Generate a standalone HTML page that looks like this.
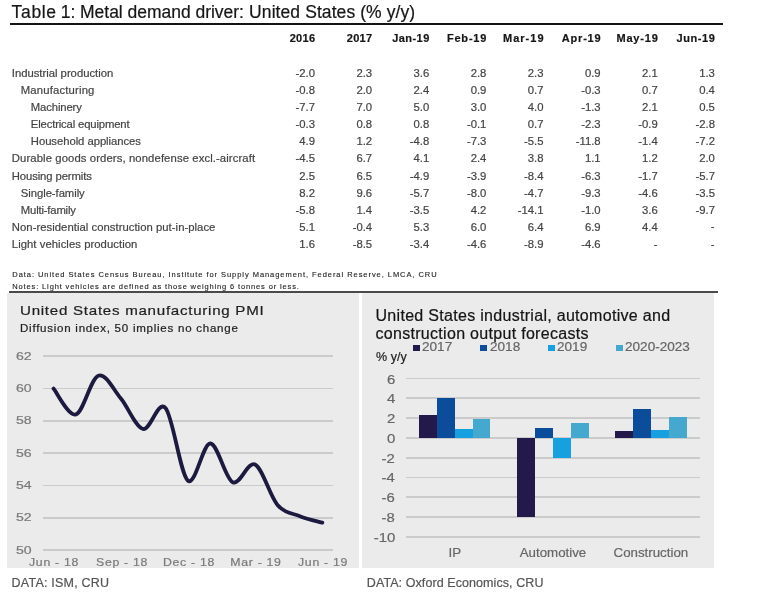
<!DOCTYPE html>
<html><head><meta charset="utf-8"><style>
html,body{margin:0;padding:0;background:#fff;width:781px;height:615px;overflow:hidden;}
body{position:relative;font-family:"Liberation Sans",sans-serif;filter:blur(0.3px);}
.t{position:absolute;white-space:nowrap;-webkit-text-stroke:0.2px currentColor;}
.r{position:absolute;}
</style></head><body>
<div class="t" style="top:4.19px;font-size:17.5px;line-height:17.5px;color:#161616;letter-spacing:0.65px;left:11.60px;">Table</div>
<div class="t" style="top:4.19px;font-size:17.5px;line-height:17.5px;color:#161616;letter-spacing:-0.03px;left:60.70px;">1: Metal demand driver:</div>
<div class="t" style="top:4.19px;font-size:17.5px;line-height:17.5px;color:#161616;letter-spacing:0.085px;left:249.10px;">United States (% y/y)</div>
<div class="r" style="left:9.50px;top:23.00px;width:713.80px;height:2.00px;background:#141414;"></div>
<div class="t" style="top:33.39px;font-size:11px;line-height:11px;color:#161616;font-weight:bold;letter-spacing:0.3px;right:465.70px;">2016</div>
<div class="t" style="top:33.39px;font-size:11px;line-height:11px;color:#161616;font-weight:bold;letter-spacing:0.3px;right:408.57px;">2017</div>
<div class="t" style="top:33.39px;font-size:11px;line-height:11px;color:#161616;font-weight:bold;letter-spacing:0.45px;right:351.29px;">Jan-19</div>
<div class="t" style="top:33.39px;font-size:11px;line-height:11px;color:#161616;font-weight:bold;letter-spacing:0.8px;right:293.81px;">Feb-19</div>
<div class="t" style="top:33.39px;font-size:11px;line-height:11px;color:#161616;font-weight:bold;letter-spacing:1.0px;right:236.48px;">Mar-19</div>
<div class="t" style="top:33.39px;font-size:11px;line-height:11px;color:#161616;font-weight:bold;letter-spacing:0.8px;right:179.55px;">Apr-19</div>
<div class="t" style="top:33.39px;font-size:11px;line-height:11px;color:#161616;font-weight:bold;letter-spacing:0.8px;right:122.42px;">May-19</div>
<div class="t" style="top:33.39px;font-size:11px;line-height:11px;color:#161616;font-weight:bold;letter-spacing:0.6px;right:65.49px;">Jun-19</div>
<div class="t" style="top:67.73px;font-size:11.3px;line-height:11.3px;color:#444444;letter-spacing:-0.015px;left:11.80px;">Industrial production</div>
<div class="t" style="top:67.73px;font-size:11.3px;line-height:11.3px;color:#444444;right:466.00px;">-2.0</div>
<div class="t" style="top:67.73px;font-size:11.3px;line-height:11.3px;color:#444444;right:408.87px;">2.3</div>
<div class="t" style="top:67.73px;font-size:11.3px;line-height:11.3px;color:#444444;right:351.74px;">3.6</div>
<div class="t" style="top:67.73px;font-size:11.3px;line-height:11.3px;color:#444444;right:294.61px;">2.8</div>
<div class="t" style="top:67.73px;font-size:11.3px;line-height:11.3px;color:#444444;right:237.48px;">2.3</div>
<div class="t" style="top:67.73px;font-size:11.3px;line-height:11.3px;color:#444444;right:180.35px;">0.9</div>
<div class="t" style="top:67.73px;font-size:11.3px;line-height:11.3px;color:#444444;right:123.22px;">2.1</div>
<div class="t" style="top:67.73px;font-size:11.3px;line-height:11.3px;color:#444444;right:66.09px;">1.3</div>
<div class="t" style="top:84.86px;font-size:11.3px;line-height:11.3px;color:#444444;letter-spacing:0.167px;left:20.80px;">Manufacturing</div>
<div class="t" style="top:84.86px;font-size:11.3px;line-height:11.3px;color:#444444;right:466.00px;">-0.8</div>
<div class="t" style="top:84.86px;font-size:11.3px;line-height:11.3px;color:#444444;right:408.87px;">2.0</div>
<div class="t" style="top:84.86px;font-size:11.3px;line-height:11.3px;color:#444444;right:351.74px;">2.4</div>
<div class="t" style="top:84.86px;font-size:11.3px;line-height:11.3px;color:#444444;right:294.61px;">0.9</div>
<div class="t" style="top:84.86px;font-size:11.3px;line-height:11.3px;color:#444444;right:237.48px;">0.7</div>
<div class="t" style="top:84.86px;font-size:11.3px;line-height:11.3px;color:#444444;right:180.35px;">-0.3</div>
<div class="t" style="top:84.86px;font-size:11.3px;line-height:11.3px;color:#444444;right:123.22px;">0.7</div>
<div class="t" style="top:84.86px;font-size:11.3px;line-height:11.3px;color:#444444;right:66.09px;">0.4</div>
<div class="t" style="top:101.99px;font-size:11.3px;line-height:11.3px;color:#444444;letter-spacing:-0.125px;left:30.80px;">Machinery</div>
<div class="t" style="top:101.99px;font-size:11.3px;line-height:11.3px;color:#444444;right:466.00px;">-7.7</div>
<div class="t" style="top:101.99px;font-size:11.3px;line-height:11.3px;color:#444444;right:408.87px;">7.0</div>
<div class="t" style="top:101.99px;font-size:11.3px;line-height:11.3px;color:#444444;right:351.74px;">5.0</div>
<div class="t" style="top:101.99px;font-size:11.3px;line-height:11.3px;color:#444444;right:294.61px;">3.0</div>
<div class="t" style="top:101.99px;font-size:11.3px;line-height:11.3px;color:#444444;right:237.48px;">4.0</div>
<div class="t" style="top:101.99px;font-size:11.3px;line-height:11.3px;color:#444444;right:180.35px;">-1.3</div>
<div class="t" style="top:101.99px;font-size:11.3px;line-height:11.3px;color:#444444;right:123.22px;">2.1</div>
<div class="t" style="top:101.99px;font-size:11.3px;line-height:11.3px;color:#444444;right:66.09px;">0.5</div>
<div class="t" style="top:119.12px;font-size:11.3px;line-height:11.3px;color:#444444;letter-spacing:-0.153px;left:30.80px;">Electrical equipment</div>
<div class="t" style="top:119.12px;font-size:11.3px;line-height:11.3px;color:#444444;right:466.00px;">-0.3</div>
<div class="t" style="top:119.12px;font-size:11.3px;line-height:11.3px;color:#444444;right:408.87px;">0.8</div>
<div class="t" style="top:119.12px;font-size:11.3px;line-height:11.3px;color:#444444;right:351.74px;">0.8</div>
<div class="t" style="top:119.12px;font-size:11.3px;line-height:11.3px;color:#444444;right:294.61px;">-0.1</div>
<div class="t" style="top:119.12px;font-size:11.3px;line-height:11.3px;color:#444444;right:237.48px;">0.7</div>
<div class="t" style="top:119.12px;font-size:11.3px;line-height:11.3px;color:#444444;right:180.35px;">-2.3</div>
<div class="t" style="top:119.12px;font-size:11.3px;line-height:11.3px;color:#444444;right:123.22px;">-0.9</div>
<div class="t" style="top:119.12px;font-size:11.3px;line-height:11.3px;color:#444444;right:66.09px;">-2.8</div>
<div class="t" style="top:136.25px;font-size:11.3px;line-height:11.3px;color:#444444;letter-spacing:-0.053px;left:30.80px;">Household appliances</div>
<div class="t" style="top:136.25px;font-size:11.3px;line-height:11.3px;color:#444444;right:466.00px;">4.9</div>
<div class="t" style="top:136.25px;font-size:11.3px;line-height:11.3px;color:#444444;right:408.87px;">1.2</div>
<div class="t" style="top:136.25px;font-size:11.3px;line-height:11.3px;color:#444444;right:351.74px;">-4.8</div>
<div class="t" style="top:136.25px;font-size:11.3px;line-height:11.3px;color:#444444;right:294.61px;">-7.3</div>
<div class="t" style="top:136.25px;font-size:11.3px;line-height:11.3px;color:#444444;right:237.48px;">-5.5</div>
<div class="t" style="top:136.25px;font-size:11.3px;line-height:11.3px;color:#444444;right:180.35px;">-11.8</div>
<div class="t" style="top:136.25px;font-size:11.3px;line-height:11.3px;color:#444444;right:123.22px;">-1.4</div>
<div class="t" style="top:136.25px;font-size:11.3px;line-height:11.3px;color:#444444;right:66.09px;">-7.2</div>
<div class="t" style="top:153.38px;font-size:11.3px;line-height:11.3px;color:#444444;letter-spacing:0.102px;left:11.80px;">Durable goods orders, nondefense excl.-aircraft</div>
<div class="t" style="top:153.38px;font-size:11.3px;line-height:11.3px;color:#444444;right:466.00px;">-4.5</div>
<div class="t" style="top:153.38px;font-size:11.3px;line-height:11.3px;color:#444444;right:408.87px;">6.7</div>
<div class="t" style="top:153.38px;font-size:11.3px;line-height:11.3px;color:#444444;right:351.74px;">4.1</div>
<div class="t" style="top:153.38px;font-size:11.3px;line-height:11.3px;color:#444444;right:294.61px;">2.4</div>
<div class="t" style="top:153.38px;font-size:11.3px;line-height:11.3px;color:#444444;right:237.48px;">3.8</div>
<div class="t" style="top:153.38px;font-size:11.3px;line-height:11.3px;color:#444444;right:180.35px;">1.1</div>
<div class="t" style="top:153.38px;font-size:11.3px;line-height:11.3px;color:#444444;right:123.22px;">1.2</div>
<div class="t" style="top:153.38px;font-size:11.3px;line-height:11.3px;color:#444444;right:66.09px;">2.0</div>
<div class="t" style="top:170.51px;font-size:11.3px;line-height:11.3px;color:#444444;letter-spacing:-0.114px;left:11.80px;">Housing permits</div>
<div class="t" style="top:170.51px;font-size:11.3px;line-height:11.3px;color:#444444;right:466.00px;">2.5</div>
<div class="t" style="top:170.51px;font-size:11.3px;line-height:11.3px;color:#444444;right:408.87px;">6.5</div>
<div class="t" style="top:170.51px;font-size:11.3px;line-height:11.3px;color:#444444;right:351.74px;">-4.9</div>
<div class="t" style="top:170.51px;font-size:11.3px;line-height:11.3px;color:#444444;right:294.61px;">-3.9</div>
<div class="t" style="top:170.51px;font-size:11.3px;line-height:11.3px;color:#444444;right:237.48px;">-8.4</div>
<div class="t" style="top:170.51px;font-size:11.3px;line-height:11.3px;color:#444444;right:180.35px;">-6.3</div>
<div class="t" style="top:170.51px;font-size:11.3px;line-height:11.3px;color:#444444;right:123.22px;">-1.7</div>
<div class="t" style="top:170.51px;font-size:11.3px;line-height:11.3px;color:#444444;right:66.09px;">-5.7</div>
<div class="t" style="top:187.64px;font-size:11.3px;line-height:11.3px;color:#444444;letter-spacing:-0.058px;left:20.80px;">Single-family</div>
<div class="t" style="top:187.64px;font-size:11.3px;line-height:11.3px;color:#444444;right:466.00px;">8.2</div>
<div class="t" style="top:187.64px;font-size:11.3px;line-height:11.3px;color:#444444;right:408.87px;">9.6</div>
<div class="t" style="top:187.64px;font-size:11.3px;line-height:11.3px;color:#444444;right:351.74px;">-5.7</div>
<div class="t" style="top:187.64px;font-size:11.3px;line-height:11.3px;color:#444444;right:294.61px;">-8.0</div>
<div class="t" style="top:187.64px;font-size:11.3px;line-height:11.3px;color:#444444;right:237.48px;">-4.7</div>
<div class="t" style="top:187.64px;font-size:11.3px;line-height:11.3px;color:#444444;right:180.35px;">-9.3</div>
<div class="t" style="top:187.64px;font-size:11.3px;line-height:11.3px;color:#444444;right:123.22px;">-4.6</div>
<div class="t" style="top:187.64px;font-size:11.3px;line-height:11.3px;color:#444444;right:66.09px;">-3.5</div>
<div class="t" style="top:204.77px;font-size:11.3px;line-height:11.3px;color:#444444;letter-spacing:-0.182px;left:20.80px;">Multi-family</div>
<div class="t" style="top:204.77px;font-size:11.3px;line-height:11.3px;color:#444444;right:466.00px;">-5.8</div>
<div class="t" style="top:204.77px;font-size:11.3px;line-height:11.3px;color:#444444;right:408.87px;">1.4</div>
<div class="t" style="top:204.77px;font-size:11.3px;line-height:11.3px;color:#444444;right:351.74px;">-3.5</div>
<div class="t" style="top:204.77px;font-size:11.3px;line-height:11.3px;color:#444444;right:294.61px;">4.2</div>
<div class="t" style="top:204.77px;font-size:11.3px;line-height:11.3px;color:#444444;right:237.48px;">-14.1</div>
<div class="t" style="top:204.77px;font-size:11.3px;line-height:11.3px;color:#444444;right:180.35px;">-1.0</div>
<div class="t" style="top:204.77px;font-size:11.3px;line-height:11.3px;color:#444444;right:123.22px;">3.6</div>
<div class="t" style="top:204.77px;font-size:11.3px;line-height:11.3px;color:#444444;right:66.09px;">-9.7</div>
<div class="t" style="top:221.90px;font-size:11.3px;line-height:11.3px;color:#444444;letter-spacing:0.035px;left:11.80px;">Non-residential construction put-in-place</div>
<div class="t" style="top:221.90px;font-size:11.3px;line-height:11.3px;color:#444444;right:466.00px;">5.1</div>
<div class="t" style="top:221.90px;font-size:11.3px;line-height:11.3px;color:#444444;right:408.87px;">-0.4</div>
<div class="t" style="top:221.90px;font-size:11.3px;line-height:11.3px;color:#444444;right:351.74px;">5.3</div>
<div class="t" style="top:221.90px;font-size:11.3px;line-height:11.3px;color:#444444;right:294.61px;">6.0</div>
<div class="t" style="top:221.90px;font-size:11.3px;line-height:11.3px;color:#444444;right:237.48px;">6.4</div>
<div class="t" style="top:221.90px;font-size:11.3px;line-height:11.3px;color:#444444;right:180.35px;">6.9</div>
<div class="t" style="top:221.90px;font-size:11.3px;line-height:11.3px;color:#444444;right:123.22px;">4.4</div>
<div class="t" style="top:221.40px;font-size:11.3px;line-height:11.3px;color:#444444;right:66.39px;">-</div>
<div class="t" style="top:239.03px;font-size:11.3px;line-height:11.3px;color:#444444;letter-spacing:0.05px;left:11.80px;">Light vehicles production</div>
<div class="t" style="top:239.03px;font-size:11.3px;line-height:11.3px;color:#444444;right:466.00px;">1.6</div>
<div class="t" style="top:239.03px;font-size:11.3px;line-height:11.3px;color:#444444;right:408.87px;">-8.5</div>
<div class="t" style="top:239.03px;font-size:11.3px;line-height:11.3px;color:#444444;right:351.74px;">-3.4</div>
<div class="t" style="top:239.03px;font-size:11.3px;line-height:11.3px;color:#444444;right:294.61px;">-4.6</div>
<div class="t" style="top:239.03px;font-size:11.3px;line-height:11.3px;color:#444444;right:237.48px;">-8.9</div>
<div class="t" style="top:239.03px;font-size:11.3px;line-height:11.3px;color:#444444;right:180.35px;">-4.6</div>
<div class="t" style="top:238.53px;font-size:11.3px;line-height:11.3px;color:#444444;right:123.52px;">-</div>
<div class="t" style="top:238.53px;font-size:11.3px;line-height:11.3px;color:#444444;right:66.39px;">-</div>
<div class="t" style="top:270.55px;font-size:7.5px;line-height:7.5px;color:#1e1e1e;letter-spacing:0.95px;left:12.30px;-webkit-text-stroke:0.12px #1e1e1e;">Data: United States Census Bureau, Institute for Supply Management, Federal Reserve, LMCA, CRU</div>
<div class="t" style="top:282.85px;font-size:7.5px;line-height:7.5px;color:#1e1e1e;letter-spacing:0.86px;left:12.30px;-webkit-text-stroke:0.12px #1e1e1e;">Notes: Light vehicles are defined as those weighing 6 tonnes or less.</div>
<div class="r" style="left:9.00px;top:291.20px;width:709.00px;height:1.90px;background:#4a4a4a;"></div>
<div class="r" style="left:6.50px;top:293.10px;width:352.30px;height:274.90px;background:#ebebeb;"></div>
<div class="r" style="left:362.00px;top:293.10px;width:351.80px;height:274.90px;background:#ebebeb;"></div>
<div class="t" style="top:304.07px;font-size:13.5px;line-height:13.5px;color:#1e1e1e;transform:scaleX(1.12);transform-origin:0 0;letter-spacing:0.65px;left:20.30px;">United States manufacturing PMI</div>
<div class="t" style="top:324.38px;font-size:10.3px;line-height:10.3px;color:#1e1e1e;transform:scaleX(1.12);transform-origin:0 0;letter-spacing:0.67px;left:20.30px;">Diffusion index, 50 implies no change</div>
<div class="r" style="left:42.50px;top:355.40px;width:290.80px;height:1.80px;background:#cbcbcb;"></div>
<div class="t" style="top:350.72px;font-size:11.2px;line-height:11.2px;color:#7a7a7a;transform:scaleX(1.26);transform-origin:0 0;left:15.60px;">62</div>
<div class="r" style="left:42.50px;top:387.70px;width:290.80px;height:1.80px;background:#cbcbcb;"></div>
<div class="t" style="top:383.02px;font-size:11.2px;line-height:11.2px;color:#7a7a7a;transform:scaleX(1.26);transform-origin:0 0;left:15.60px;">60</div>
<div class="r" style="left:42.50px;top:420.00px;width:290.80px;height:1.80px;background:#cbcbcb;"></div>
<div class="t" style="top:415.32px;font-size:11.2px;line-height:11.2px;color:#7a7a7a;transform:scaleX(1.26);transform-origin:0 0;left:15.60px;">58</div>
<div class="r" style="left:42.50px;top:452.30px;width:290.80px;height:1.80px;background:#cbcbcb;"></div>
<div class="t" style="top:447.62px;font-size:11.2px;line-height:11.2px;color:#7a7a7a;transform:scaleX(1.26);transform-origin:0 0;left:15.60px;">56</div>
<div class="r" style="left:42.50px;top:484.60px;width:290.80px;height:1.80px;background:#cbcbcb;"></div>
<div class="t" style="top:479.92px;font-size:11.2px;line-height:11.2px;color:#7a7a7a;transform:scaleX(1.26);transform-origin:0 0;left:15.60px;">54</div>
<div class="r" style="left:42.50px;top:516.90px;width:290.80px;height:1.80px;background:#cbcbcb;"></div>
<div class="t" style="top:512.22px;font-size:11.2px;line-height:11.2px;color:#7a7a7a;transform:scaleX(1.26);transform-origin:0 0;left:15.60px;">52</div>
<div class="r" style="left:42.50px;top:549.20px;width:290.80px;height:1.80px;background:#cbcbcb;"></div>
<div class="t" style="top:544.52px;font-size:11.2px;line-height:11.2px;color:#7a7a7a;transform:scaleX(1.26);transform-origin:0 0;left:15.60px;">50</div>
<div class="t" style="top:556.54px;font-size:10.7px;line-height:10.7px;color:#7a7a7a;transform:scaleX(1.15);transform-origin:50% 0;letter-spacing:0.6px;left:-145.70px;width:400px;text-align:center;">Jun - 18</div>
<div class="t" style="top:556.54px;font-size:10.7px;line-height:10.7px;color:#7a7a7a;transform:scaleX(1.15);transform-origin:50% 0;letter-spacing:0.6px;left:-77.60px;width:400px;text-align:center;">Sep - 18</div>
<div class="t" style="top:556.54px;font-size:10.7px;line-height:10.7px;color:#7a7a7a;transform:scaleX(1.15);transform-origin:50% 0;letter-spacing:0.6px;left:-11.20px;width:400px;text-align:center;">Dec - 18</div>
<div class="t" style="top:556.54px;font-size:10.7px;line-height:10.7px;color:#7a7a7a;transform:scaleX(1.15);transform-origin:50% 0;letter-spacing:0.6px;left:55.50px;width:400px;text-align:center;">Mar - 19</div>
<div class="t" style="top:556.54px;font-size:10.7px;line-height:10.7px;color:#7a7a7a;transform:scaleX(1.15);transform-origin:50% 0;letter-spacing:0.6px;left:123.00px;width:400px;text-align:center;">Jun - 19</div>
<div class="t" style="top:577.02px;font-size:12.5px;line-height:12.5px;color:#555555;letter-spacing:0.22px;left:11.60px;">DATA: ISM, CRU</div>
<svg class="r" style="left:0;top:0" width="781" height="615"><path d="M53.50,388.60 C57.23,392.91 68.43,416.59 75.90,414.44 C83.37,412.29 90.83,378.37 98.30,375.68 C105.77,372.99 113.23,389.41 120.70,398.29 C128.17,407.17 135.63,427.36 143.10,428.98 C150.57,430.59 158.03,399.37 165.50,407.98 C172.97,416.59 180.43,474.73 187.90,480.66 C195.37,486.58 202.83,443.24 210.30,443.51 C217.77,443.78 225.23,478.77 232.70,482.27 C240.17,485.77 247.63,460.74 255.10,464.51 C262.57,468.27 270.03,496.27 277.50,504.88 C284.97,513.49 292.43,513.22 299.90,516.18 C307.37,519.15 318.57,521.57 322.30,522.64" fill="none" stroke="#1c1a3e" stroke-width="3.8" stroke-linecap="round" stroke-linejoin="round"/></svg>
<div class="t" style="top:307.66px;font-size:16px;line-height:16px;color:#141414;letter-spacing:0.3px;left:375.50px;">United States industrial, automotive and</div>
<div class="t" style="top:326.06px;font-size:16px;line-height:16px;color:#141414;letter-spacing:0.3px;left:375.50px;">construction output forecasts</div>
<div class="r" style="left:412.50px;top:344.90px;width:7.00px;height:6.10px;background:#231a4b;"></div>
<div class="t" style="top:340.92px;font-size:12.5px;line-height:12.5px;color:#666666;transform:scaleX(1.085);transform-origin:0 0;left:421.80px;">2017</div>
<div class="r" style="left:480.40px;top:344.90px;width:7.00px;height:6.10px;background:#0b4c9b;"></div>
<div class="t" style="top:340.92px;font-size:12.5px;line-height:12.5px;color:#666666;transform:scaleX(1.085);transform-origin:0 0;left:489.70px;">2018</div>
<div class="r" style="left:548.10px;top:344.90px;width:7.00px;height:6.10px;background:#16a0df;"></div>
<div class="t" style="top:340.92px;font-size:12.5px;line-height:12.5px;color:#666666;transform:scaleX(1.085);transform-origin:0 0;left:557.40px;">2019</div>
<div class="r" style="left:616.00px;top:344.90px;width:7.00px;height:6.10px;background:#45a9cf;"></div>
<div class="t" style="top:340.92px;font-size:12.5px;line-height:12.5px;color:#666666;transform:scaleX(1.085);transform-origin:0 0;left:625.30px;">2020-2023</div>
<div class="t" style="top:351.42px;font-size:12.5px;line-height:12.5px;color:#1e1e1e;letter-spacing:0.1px;left:375.90px;">% y/y</div>
<div class="r" style="left:406.00px;top:377.69px;width:294.00px;height:1.80px;background:#cbcbcb;"></div>
<div class="t" style="top:372.53px;font-size:13.3px;line-height:13.3px;color:#666666;transform:scaleX(1.12);transform-origin:100% 0;right:386.00px;">6</div>
<div class="r" style="left:406.00px;top:397.47px;width:294.00px;height:1.80px;background:#cbcbcb;"></div>
<div class="t" style="top:392.32px;font-size:13.3px;line-height:13.3px;color:#666666;transform:scaleX(1.12);transform-origin:100% 0;right:386.00px;">4</div>
<div class="r" style="left:406.00px;top:417.26px;width:294.00px;height:1.80px;background:#cbcbcb;"></div>
<div class="t" style="top:412.10px;font-size:13.3px;line-height:13.3px;color:#666666;transform:scaleX(1.12);transform-origin:100% 0;right:386.00px;">2</div>
<div class="r" style="left:406.00px;top:437.05px;width:294.00px;height:1.80px;background:#cbcbcb;"></div>
<div class="t" style="top:431.89px;font-size:13.3px;line-height:13.3px;color:#666666;transform:scaleX(1.12);transform-origin:100% 0;right:386.00px;">0</div>
<div class="r" style="left:406.00px;top:456.84px;width:294.00px;height:1.80px;background:#cbcbcb;"></div>
<div class="t" style="top:451.68px;font-size:13.3px;line-height:13.3px;color:#666666;transform:scaleX(1.12);transform-origin:100% 0;right:386.00px;">-2</div>
<div class="r" style="left:406.00px;top:476.63px;width:294.00px;height:1.80px;background:#cbcbcb;"></div>
<div class="t" style="top:471.47px;font-size:13.3px;line-height:13.3px;color:#666666;transform:scaleX(1.12);transform-origin:100% 0;right:386.00px;">-4</div>
<div class="r" style="left:406.00px;top:496.41px;width:294.00px;height:1.80px;background:#cbcbcb;"></div>
<div class="t" style="top:491.26px;font-size:13.3px;line-height:13.3px;color:#666666;transform:scaleX(1.12);transform-origin:100% 0;right:386.00px;">-6</div>
<div class="r" style="left:406.00px;top:516.20px;width:294.00px;height:1.80px;background:#cbcbcb;"></div>
<div class="t" style="top:511.04px;font-size:13.3px;line-height:13.3px;color:#666666;transform:scaleX(1.12);transform-origin:100% 0;right:386.00px;">-8</div>
<div class="r" style="left:406.00px;top:535.99px;width:294.00px;height:1.80px;background:#cbcbcb;"></div>
<div class="t" style="top:530.83px;font-size:13.3px;line-height:13.3px;color:#666666;transform:scaleX(1.12);transform-origin:100% 0;right:386.00px;">-10</div>
<div class="r" style="left:418.90px;top:415.19px;width:17.90px;height:22.76px;background:#231a4b;"></div>
<div class="r" style="left:436.80px;top:398.37px;width:17.90px;height:39.58px;background:#0b4c9b;"></div>
<div class="r" style="left:454.70px;top:428.75px;width:17.90px;height:9.20px;background:#16a0df;"></div>
<div class="r" style="left:472.60px;top:418.66px;width:17.90px;height:19.29px;background:#45a9cf;"></div>
<div class="r" style="left:517.30px;top:437.95px;width:17.90px;height:79.15px;background:#231a4b;"></div>
<div class="r" style="left:535.20px;top:428.06px;width:17.90px;height:9.89px;background:#0b4c9b;"></div>
<div class="r" style="left:553.10px;top:437.95px;width:17.90px;height:19.79px;background:#16a0df;"></div>
<div class="r" style="left:571.00px;top:422.61px;width:17.90px;height:15.34px;background:#45a9cf;"></div>
<div class="r" style="left:615.20px;top:430.73px;width:17.90px;height:7.22px;background:#231a4b;"></div>
<div class="r" style="left:633.10px;top:409.26px;width:17.90px;height:28.69px;background:#0b4c9b;"></div>
<div class="r" style="left:651.00px;top:429.54px;width:17.90px;height:8.41px;background:#16a0df;"></div>
<div class="r" style="left:668.90px;top:417.17px;width:17.90px;height:20.78px;background:#45a9cf;"></div>
<div class="t" style="top:546.04px;font-size:13.3px;line-height:13.3px;color:#666666;left:254.80px;width:400px;text-align:center;">IP</div>
<div class="t" style="top:546.04px;font-size:13.3px;line-height:13.3px;color:#666666;left:353.00px;width:400px;text-align:center;">Automotive</div>
<div class="t" style="top:546.04px;font-size:13.3px;line-height:13.3px;color:#666666;left:450.90px;width:400px;text-align:center;">Construction</div>
<div class="t" style="top:577.02px;font-size:12.5px;line-height:12.5px;color:#555555;letter-spacing:0.08px;left:366.80px;">DATA: Oxford Economics, CRU</div>
</body></html>
